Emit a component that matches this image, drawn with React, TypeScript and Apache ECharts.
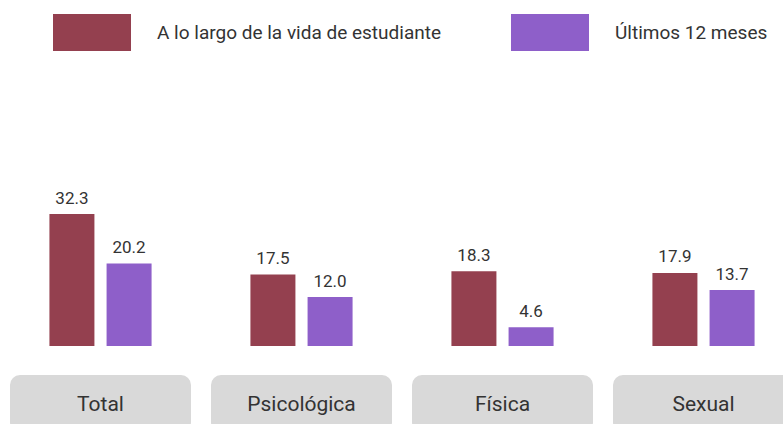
import React, { useEffect, useRef } from "react";
import * as echarts from "echarts";

const categories = ["Total", "Psicológica", "Física", "Sexual"];
const seriesNames = ["A lo largo de la vida de estudiante", "Últimos 12 meses"];
const lifetimeValues = [32.3, 17.5, 18.3, 17.9];
const last12Values = [20.2, 12.0, 4.6, 13.7];

export default function App() {
  const ref = useRef<HTMLDivElement>(null);
  useEffect(() => {
    if (!ref.current) return;
    const chart = echarts.init(ref.current, undefined, { renderer: "svg" });
    const font = "Roboto";
    const valueLabel = {
      show: true,
      position: "top",
      distance: 8,
      fontFamily: font,
      fontSize: 17,
      color: "#333333",
      formatter: (p: any) => p.value.toFixed(1),
    };
    chart.setOption({
      animation: false,
      backgroundColor: "#ffffff",
      legend: {
        top: 14,
        left: 53,
        padding: 0,
        itemWidth: 78,
        itemHeight: 37,
        itemGap: 70,
        icon: "rect",
        textStyle: {
          fontFamily: font,
          fontSize: 19,
          color: "#333333",
          padding: [0, 0, 0, 21],
        },
        data: seriesNames,
      },
      grid: {
        left: 0,
        width: 804,
        top: 101,
        bottom: 78,
        containLabel: false,
        outerBoundsMode: "none",
      },
      xAxis: {
        type: "category",
        data: categories,
        axisLine: { show: false },
        axisTick: { show: false },
        axisLabel: {
          margin: 29,
          fontFamily: font,
          fontSize: 21,
          color: "#333333",
          backgroundColor: "#d9d9d9",
          borderRadius: 10,
          width: 181,
          height: 57,
          lineHeight: 57,
          align: "center",
        },
      },
      yAxis: {
        type: "value",
        min: 0,
        max: 60,
        show: false,
        splitLine: { show: false },
      },
      series: [
        {
          name: seriesNames[0],
          type: "bar",
          data: lifetimeValues,
          barWidth: 45,
          barGap: "27%",
          itemStyle: { color: "#94404f" },
          label: valueLabel,
        },
        {
          name: seriesNames[1],
          type: "bar",
          data: last12Values,
          barWidth: 45,
          itemStyle: { color: "#8e5fc9" },
          label: valueLabel,
        },
      ],
    });
    return () => chart.dispose();
  }, []);
  return (
    <div
      ref={ref}
      style={{ position: "fixed", left: 0, top: 0, width: 783, height: 424 }}
    />
  );
}
